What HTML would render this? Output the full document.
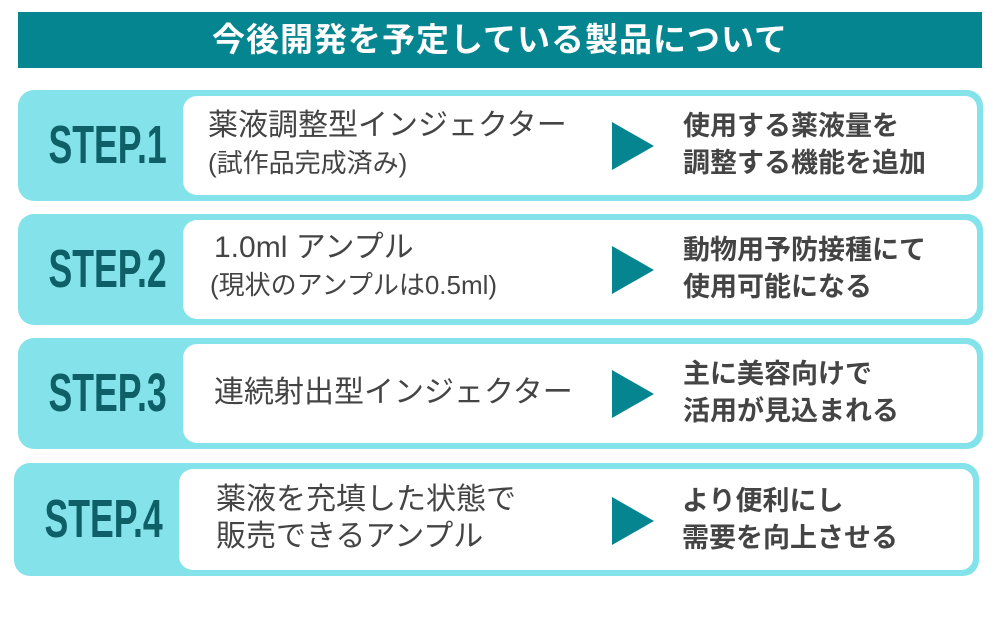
<!DOCTYPE html>
<html><head><meta charset="utf-8"><style>
body{margin:0;width:1000px;height:619px;background:#fff;position:relative;overflow:hidden;font-family:"Liberation Sans","Noto Sans CJK JP",sans-serif;}
.title{position:absolute;left:18px;top:12px;width:964px;height:56px;background:#05858f;color:#fff;font-weight:bold;font-size:33px;line-height:56px;text-align:center;letter-spacing:1px}
.card{position:absolute;height:111px;background:#84e3ea;border-radius:16px;}
.inner{position:absolute;left:165px;top:6px;right:6px;bottom:6px;background:#fff;border-radius:14px 12px 12px 14px}
.step{position:absolute;left:0;width:165px;top:0;height:111px;line-height:111px;text-align:center;color:#0e5f67;font-family:"Liberation Sans Narrow","Liberation Sans",sans-serif;font-weight:bold;font-size:54px;}
.step span{display:inline-block;transform:scaleX(0.66)}
.l{position:absolute;left:190px;color:#444;font-size:30px;line-height:37px;}
.tri{position:absolute;left:594px;top:32px;width:0;height:0;border-top:24px solid transparent;border-bottom:24px solid transparent;border-left:42px solid #05858f}
.r{position:absolute;left:665px;top:18px;color:#444;font-size:27px;font-weight:bold;line-height:37px;}
</style></head><body>
<div class="title">今後開発を予定している製品について</div>

<div class="card" style="left:18px;top:90px;width:965px">
<div class="step"><span>STEP.1</span></div><div class="inner"></div>
<div class="l" style="top:17px">薬液調整型インジェクター<br><span style="font-size:26px">(試作品完成済み)</span></div>
<div class="tri"></div>
<div class="r">使用する薬液量を<br>調整する機能を追加</div>
</div>

<div class="card" style="left:18px;top:214px;width:965px">
<div class="step"><span>STEP.2</span></div><div class="inner"></div>
<div class="l" style="top:15px;left:196px">1.0ml アンプル<br><span style="font-size:26px;margin-left:-4px">(現状のアンプルは0.5ml)</span></div>
<div class="tri"></div>
<div class="r">動物用予防接種にて<br>使用可能になる</div>
</div>

<div class="card" style="left:18px;top:338px;width:965px">
<div class="step"><span>STEP.3</span></div><div class="inner"></div>
<div class="l" style="top:36px;left:196px">連続射出型インジェクター</div>
<div class="tri"></div>
<div class="r">主に美容向けで<br>活用が見込まれる</div>
</div>

<div class="card" style="left:14px;top:463px;width:965px;height:113px">
<div class="step" style="height:113px;line-height:113px"><span>STEP.4</span></div><div class="inner"></div>
<div class="l" style="top:18px;left:202px">薬液を充填した状態で<br>販売できるアンプル</div>
<div class="tri" style="left:598px;top:34px"></div>
<div class="r" style="left:668px;top:20px">より便利にし<br>需要を向上させる</div>
</div>
</body></html>
